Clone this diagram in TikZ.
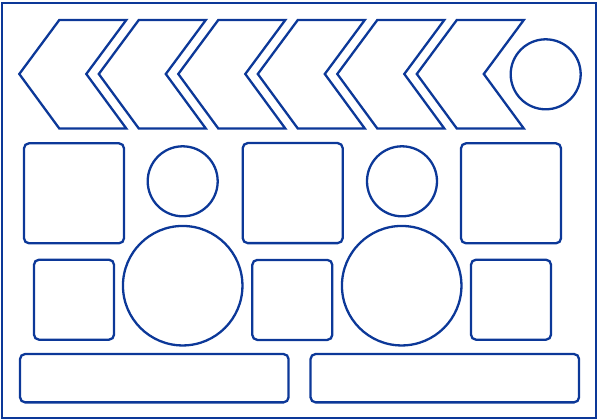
\documentclass[tikz,border=0pt]{standalone}
\begin{document}
\begin{tikzpicture}[x=1pt,y=-1pt,
  line width=2.3pt,
  every node/.style={inner sep=0pt,outer sep=0pt},
  ink/.style={draw=blueink},
  boxshape/.style={ink,rectangle,rounded corners=5pt},
  bigbox/.style={boxshape,minimum width=100pt,minimum height=100pt},
  smallbox/.style={boxshape,minimum width=80pt,minimum height=80pt},
  barbox/.style={boxshape,minimum width=268.5pt,minimum height=48.3pt},
  smallcirc/.style={ink,circle,minimum size=70pt},
  bigcirc/.style={ink,circle,minimum size=119.5pt},
  chev/.style={ink,line join=miter}
]
\definecolor{blueink}{RGB}{12,56,152}
\useasboundingbox (0,0) rectangle (598,420);
\draw[ink] (2.3,3) rectangle (596,418);
% chevrons
\foreach \i in {0,...,5}{
  \pgfmathsetmacro{\t}{19.3+79.5*\i}
  \draw[chev] (\t,74) -- (\t+40,20) -- (\t+107,20) -- (\t+67,74) -- (\t+107,128.5) -- (\t+40,128.5) -- cycle;
}
\node[smallcirc] (c0) at (545.7,74.3) {};
% row 2
\node[bigbox] (r1) at (74,193.3) {};
\node[smallcirc] (c1) at (182.7,181.3) {};
\node[bigbox] (r2) at (292.7,193.1) {};
\node[smallcirc] (c2) at (402,181.3) {};
\node[bigbox] (r3) at (511,193.3) {};
% row 3
\node[smallbox] (s1) at (74,299.7) {};
\node[bigcirc] (b1) at (182.7,285.7) {};
\node[smallbox] (s2) at (292.3,299.9) {};
\node[bigcirc] (b2) at (401.7,285.7) {};
\node[smallbox] (s3) at (511,299.7) {};
% bars
\node[barbox] (bar1) at (154.3,378.2) {};
\node[barbox] (bar2) at (444.8,378.2) {};
\end{tikzpicture}
\end{document}
